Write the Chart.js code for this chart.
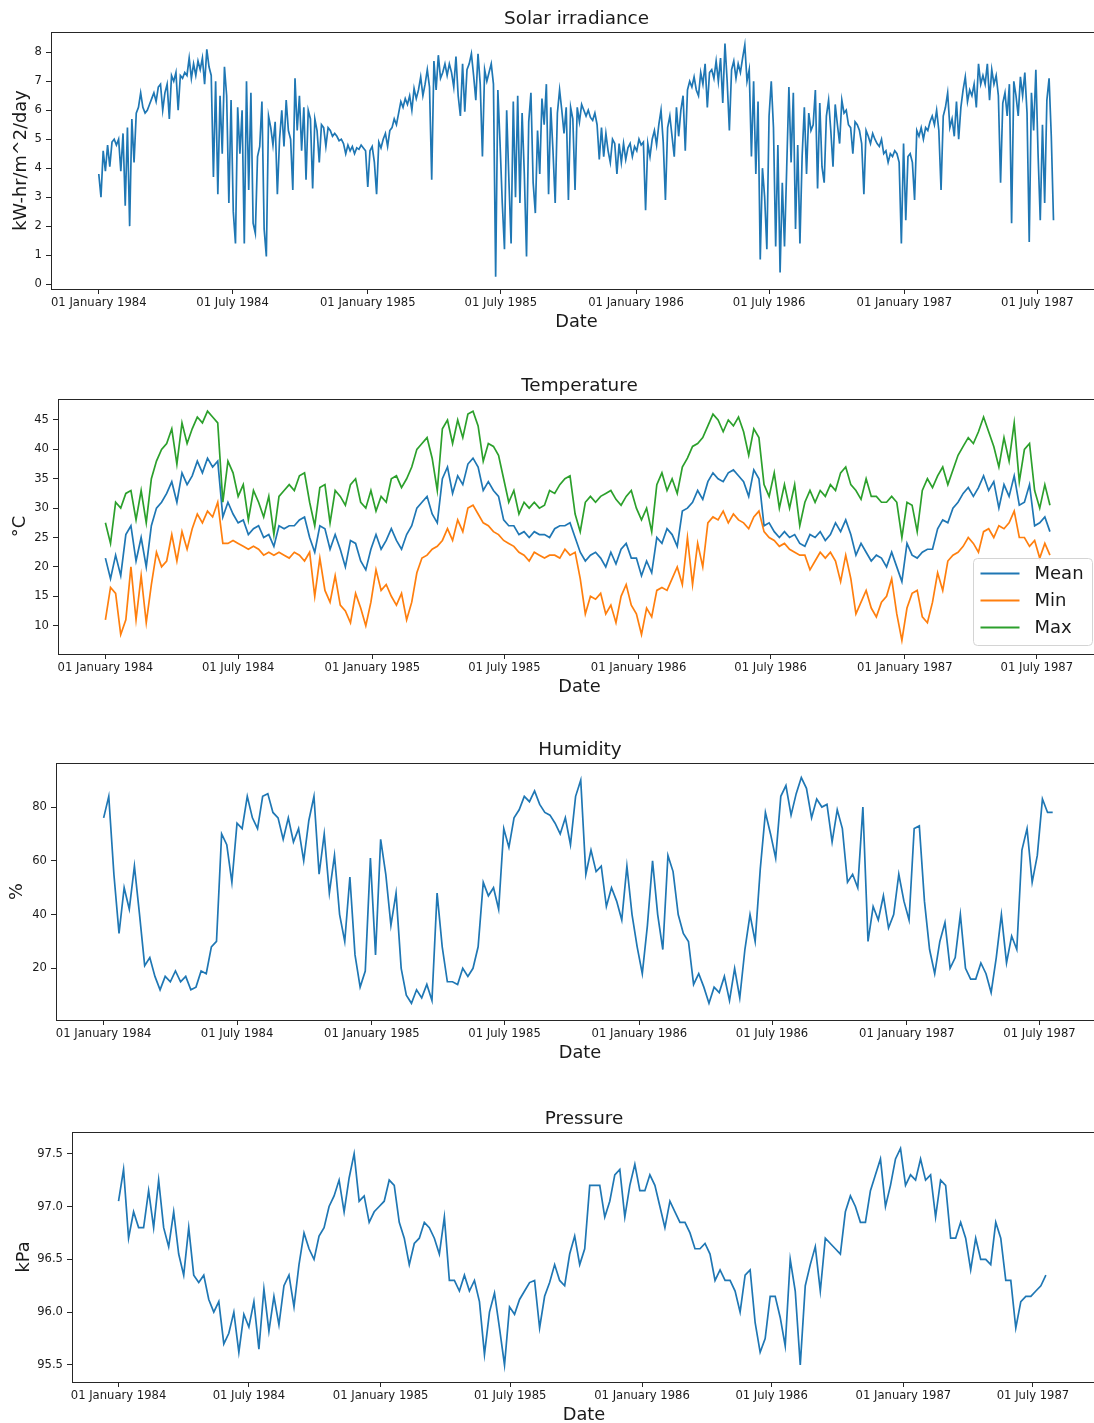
<!DOCTYPE html>
<html>
<head>
<meta charset="utf-8">
<title>Weather station: daily series 1984-1987</title>
<script src="https://cdn.jsdelivr.net/npm/chart.js@4.4.0/dist/chart.umd.min.js"></script>
<style>
  html, body { margin: 0; padding: 0; background: #ffffff; overflow: hidden; width: 1094px; height: 1423px; }
  body { position: relative; }
  canvas { position: absolute; left: 0; display: block; }
</style>
</head>
<body>
<canvas id="solarChart"></canvas>
<canvas id="tempChart"></canvas>
<canvas id="humidityChart"></canvas>
<canvas id="pressureChart"></canvas>
<script>
// ---- time axis (days since 01 January 1984) ----
const X_TICK_DAYS = [0, 182, 366, 547, 731, 912, 1096, 1277];
const X_TICK_LABELS = ['01 January 1984', '01 July 1984', '01 January 1985', '01 July 1985',
                       '01 January 1986', '01 July 1986', '01 January 1987', '01 July 1987'];
const SOLAR_STEP_DAYS = 3;   // one reading every 3 days
const WEEK_STEP_DAYS = 7;    // one reading every week

// ---- solar irradiance, kW-hr/m^2/day ----
const SOLAR = [
  3.8,3.0,4.6,3.9,4.8,4.05,4.9,5.0,4.8,5.0,
  3.9,5.2,2.7,5.4,2.0,5.7,4.2,5.9,6.1,6.6,
  6.1,5.9,6.0,6.2,6.4,6.6,6.3,6.8,6.9,6.0,
  6.6,6.9,5.7,7.2,7.0,7.3,6.0,7.2,7.1,7.3,
  7.2,7.8,7.1,7.6,7.2,7.7,7.4,7.8,6.9,8.1,
  7.5,7.2,3.7,7.0,3.1,6.5,4.5,7.5,6.5,2.8,
  6.35,2.5,1.4,6.1,4.5,6.0,1.4,7.0,3.25,6.6,
  2.1,1.75,4.4,4.75,6.3,1.9,0.95,5.8,5.4,4.8,
  5.6,3.1,5.0,6.0,4.75,6.35,5.3,5.0,3.25,7.1,
  5.3,6.5,4.6,6.1,3.6,6.0,5.7,3.3,5.7,5.3,
  4.2,5.5,5.4,4.75,5.4,5.3,5.1,5.2,5.1,4.95,
  5.0,4.85,4.5,4.8,4.6,4.75,4.5,4.7,4.65,4.8,
  4.7,4.6,3.35,4.6,4.75,4.2,3.1,4.9,4.7,5.0,
  5.2,4.75,5.3,5.4,5.7,5.5,5.9,6.3,6.1,6.4,
  6.2,6.5,6.0,6.75,6.4,6.7,7.15,6.5,6.9,7.4,
  6.8,3.6,7.7,6.7,7.9,7.1,7.3,7.6,7.2,7.6,
  7.3,6.8,7.85,6.5,5.8,7.6,5.95,7.4,7.6,7.95,
  7.2,6.35,7.95,6.9,4.4,7.4,7.0,7.3,7.6,6.9,
  0.25,6.7,4.85,2.8,1.2,6.0,3.6,1.4,6.3,3.0,
  6.5,2.8,5.9,3.8,0.95,5.6,6.6,3.5,2.45,5.3,
  3.8,6.4,5.5,6.9,3.1,6.1,4.6,2.8,5.9,6.7,
  6.0,5.2,6.1,2.9,6.1,5.7,3.25,6.1,5.6,6.2,
  6.0,5.8,6.0,5.75,5.65,5.9,5.5,4.3,5.4,4.4,
  5.2,4.6,4.2,5.0,4.85,3.8,4.85,4.2,4.85,4.3,
  4.7,4.85,4.4,4.75,4.6,5.0,4.8,4.9,2.55,4.85,
  4.4,5.0,5.3,4.8,5.5,6.0,4.9,2.9,5.4,5.8,
  5.1,4.4,6.1,5.1,6.0,6.5,4.6,6.7,7.0,6.8,
  7.15,6.7,6.5,7.3,6.9,7.6,6.1,7.3,7.4,7.1,
  7.7,7.0,7.8,6.25,8.3,7.0,5.3,7.4,7.7,7.1,
  7.6,7.3,7.8,8.25,7.0,7.4,4.4,7.0,3.8,6.3,
  0.85,4.0,3.0,1.2,5.8,7.0,5.4,1.3,4.8,0.4,
  3.5,1.3,4.0,6.8,4.2,6.6,1.9,4.8,1.4,4.4,
  6.1,3.8,5.9,5.3,5.5,6.7,3.3,6.25,4.05,3.5,
  5.8,6.35,5.3,4.05,6.2,5.5,4.85,6.35,5.9,6.0,
  5.5,5.4,4.5,5.6,5.5,5.3,4.85,3.1,5.3,5.1,
  4.85,5.2,5.0,4.85,4.75,5.0,4.5,4.6,4.2,4.5,
  4.4,4.6,4.5,4.2,1.4,4.85,2.2,4.4,4.5,4.2,
  2.9,5.3,5.1,5.4,5.0,5.4,5.3,5.6,5.8,5.5,
  6.0,5.3,3.25,5.8,6.1,6.6,5.4,5.7,5.1,6.3,
  5.0,6.1,6.7,7.15,6.3,6.7,6.5,6.9,6.1,7.6,
  6.9,7.2,6.9,7.6,6.35,7.4,6.9,7.2,6.5,3.5,
  6.25,6.6,5.8,6.9,2.1,7.0,6.5,5.8,7.15,6.5,
  7.3,5.9,1.45,6.6,5.3,7.4,4.5,2.2,5.5,2.8,
  6.35,7.1,5.1,2.2
];
const SOLAR_Y_TICKS = [0, 1, 2, 3, 4, 5, 6, 7, 8];

// ---- temperature, °C (weekly) ----
const TEMP_MEAN = [
  21.5,18,22,18.5,25.5,27,21,25,20,27,
  30,31,32.5,34.5,31,36,34,35.5,38,36,
  38.5,37,38,28.5,31,29,27.5,28,25.5,26.5,
  27,25,25.5,23.5,27,26.5,27,27,28,28.5,
  25,22.5,27,26.5,23,25.5,23,20,24.5,24,
  21,19.5,23,25.5,23,24.5,26.5,24.5,23,25.5,
  27,30,31,32,29,27.5,35,37,32.5,35.5,
  34,37.5,38.5,37,33,34.5,33,32,28,27,
  27,25.5,26,25,26,25.5,25.5,25,26.5,27,
  27,27.5,25,22.5,21,22,22.5,21.5,20,22.5,
  20.5,23,24,21.5,21.5,18.5,21,19,25,24,
  26.5,25.5,23.5,29.5,30,31,33,31.5,34.5,36,
  35,34.5,36,36.5,35.5,34.5,32,36.5,35,27,
  27.5,26,25,26,25,25.5,24,23.5,25.5,25,
  26,24.5,25.5,27.5,26,28,25.5,22,24,22.5,
  21,22,21.5,20,22.5,20,17.5,24,22,21.5,
  22.5,23,23,26.5,28,27.5,30,31,32.5,33.5,
  32,33.5,35.5,33,34.5,30,34,32,35.5,30.5,
  31,34,27,27.5,28.5,26
];
const TEMP_MIN = [
  11,16.5,15.5,8.5,11,20,11,18.5,10.5,17,
  22.5,20,21,25.5,21,26,23,26.5,29,27.5,
  29.5,28.5,31,24,24,24.5,24,23.5,23,23.5,
  23,22,22.5,22,22.5,22,21.5,22.5,22,21,
  22.5,15,21.5,16,14,18.5,13.5,12.5,10.5,15.5,
  13,10,14,19.5,16,17,15,13.5,15.5,11,
  14,19,21.5,22,23,23.5,24.5,26.5,24.5,28,
  26,30,30.5,29,27.5,27,26,25.5,24.5,24,
  23.5,22.5,22,21,22.5,22,21.5,22,22,21.5,
  23,22,22.5,18,12,15,14.5,15.5,12,13.5,
  10.5,15,17,13.5,12,8.5,13,11.5,16,16.5,
  16,18,20,17,25,17,24,20,27.5,28.5,
  28,29.5,27.5,29,28,27.5,26.5,28.5,29.5,26,
  25,24.5,23.5,24,23,22.5,22,22,19.5,21,
  22.5,21.5,22.5,21,17.5,22,18,12,14,16,
  13,11.5,14,15,18,12,7.5,13,15.5,16,
  11.5,10.5,14,19,16,21,22,22.5,23.5,25,
  24,22.5,26,26.5,25,27,26.5,27.5,29.5,25,
  25,23.5,24.5,21.5,24,22
];
const TEMP_MAX = [
  27.5,24,31,30,32.5,33,28,33,27.5,35,
  38,40,41,43.5,37.5,44.5,41,43.5,45.5,44.5,
  46.5,45.5,44.5,31,38,36,32,34,28,33,
  31,28.5,32,25.5,32,33,34,33,35.5,36,
  31,27,33.5,34,27.5,33,32,30.5,34,35,
  31,30,33,29.5,32,31,35,35.5,33.5,35,
  37,40,41,42,38.5,33,43.5,45,41,45,
  42,46,46.5,44,38,41,40.5,39,35,31,
  33,29,31,30,31,30,30.5,33,32.5,34,
  35,35.5,29,26,31,32,31,32,32.5,33,
  31.5,30.5,32,33,30,28,30,26,34,36,
  33,35,32.5,37,38.5,40.5,41,42,44,46,
  45,43,45,44,45.5,43,39,43.5,42,34,
  32,36,30,34,30,34,27,31,33,31,
  33,32,34,33,36,37,34,33,31.5,35,
  32,32,31,31,32,31,25,31,30.5,26,
  33,35,33.5,35.5,37,34,36.5,39,40.5,42,
  41,43,45.5,43,40.5,37,42,38,44.5,34.5,
  40,41,33,30,34,30.5
];
const TEMP_Y_TICKS = [10, 15, 20, 25, 30, 35, 40, 45];

// ---- relative humidity, % (weekly) ----
const HUMIDITY = [
  76,84,55,33,50,42,58,40,21,24,
  17,12,17,15,19,15,17,12,13,19,
  18,28,30,70,66,52,74,72,84,76,
  72,84,85,78,76,68,76,67,72,60,
  75,84,55,70,48,62,40,30,54,25,
  13,19,61,25,68,55,36,48,20,10,
  7,12,9,14,8,48,28,15,15,14,
  20,17,20,28,52,47,50,42,72,65,
  76,79,84,82,86,81,78,77,74,70,
  76,66,84,90,55,64,56,58,43,50,
  45,38,58,40,28,18,36,60,40,27,
  62,56,40,33,30,14,18,13,7,13,
  11,17,8,20,9,27,40,30,57,78,
  70,61,84,88,77,85,91,87,76,83,
  80,81,67,79,72,52,55,50,80,30,
  43,38,47,35,40,55,45,38,72,73,
  45,27,18,30,37,20,24,40,20,16,
  16,22,18,11,24,40,22,32,27,64,
  72,52,62,83,78,78
];
const HUMIDITY_Y_TICKS = [20, 40, 60, 80];

// ---- surface pressure, kPa (weekly) ----
const PRESSURE = [
  97.05,97.35,96.7,96.95,96.8,96.8,97.15,96.8,97.25,96.8,
  96.62,96.95,96.55,96.35,96.8,96.35,96.28,96.35,96.12,96.0,
  96.1,95.7,95.8,96.0,95.62,95.98,95.86,96.1,95.65,96.22,
  95.82,96.15,95.88,96.25,96.35,96.05,96.45,96.75,96.6,96.5,
  96.72,96.8,97.0,97.1,97.25,96.95,97.27,97.5,97.05,97.1,
  96.85,96.95,97.0,97.05,97.25,97.2,96.85,96.7,96.45,96.65,
  96.7,96.85,96.8,96.7,96.55,96.9,96.3,96.3,96.2,96.35,
  96.2,96.3,96.1,95.6,96.0,96.18,95.85,95.5,96.05,95.98,
  96.12,96.2,96.28,96.3,95.85,96.15,96.28,96.45,96.3,96.25,
  96.55,96.72,96.45,96.6,97.2,97.2,97.2,96.9,97.05,97.3,
  97.35,96.9,97.2,97.4,97.15,97.15,97.3,97.2,97.0,96.8,
  97.05,96.95,96.85,96.85,96.75,96.6,96.6,96.65,96.55,96.3,
  96.4,96.3,96.3,96.2,96.0,96.35,96.4,95.9,95.62,95.75,
  96.15,96.15,95.95,95.68,96.5,96.2,95.5,96.25,96.45,96.62,
  96.2,96.7,96.65,96.6,96.55,96.95,97.1,97.0,96.85,96.85,
  97.15,97.3,97.45,97.0,97.2,97.45,97.55,97.2,97.3,97.25,
  97.45,97.25,97.3,96.9,97.25,97.2,96.7,96.7,96.85,96.7,
  96.4,96.7,96.5,96.5,96.45,96.85,96.7,96.3,96.3,95.85,
  96.1,96.15,96.15,96.2,96.25,96.35
];
const PRESSURE_Y_TICKS = [95.5, 96.0, 96.5, 97.0, 97.5];

// ---- styling ----
const FONT = "'DejaVu Sans', 'Liberation Sans', sans-serif";
const TEXT = '#1a1a1a';
const SPINE = '#262626';
const BLUE = '#1f77b4', ORANGE = '#ff7f0e', GREEN = '#2ca02c';
const X_MIN_DAY = -65, X_MAX_DAY = 1365;
const TITLE_SIZE = 18.4, AXIS_TITLE_SIZE = 17.8, TICK_SIZE = 11.6;
const ABOVE_FRAME = 32, BELOW_FRAME = 44;

function toPoints(values, step) {
  return values.map((v, i) => ({ x: i * step, y: v }));
}

function line(label, values, step, color, order) {
  return {
    label, data: toPoints(values, step), borderColor: color, backgroundColor: color,
    borderWidth: 1.7, pointRadius: 0, tension: 0, fill: false, order
  };
}

// frame around the plotting area (drawn above the lines)
const framePlugin = {
  id: 'frame',
  afterDatasetsDraw(chart) {
    const { ctx, chartArea: a } = chart;
    ctx.save();
    ctx.strokeStyle = SPINE;
    ctx.lineWidth = 1;
    ctx.strokeRect(Math.round(a.left) + 0.5, Math.round(a.top) + 0.5,
                   Math.round(a.right - a.left), Math.round(a.bottom - a.top));
    ctx.restore();
  }
};

// boxed legend in the lower-right corner of the temperature panel
const cornerLegendPlugin = {
  id: 'cornerLegend',
  afterDatasetsDraw(chart) {
    const { ctx, chartArea: a } = chart;
    const w = 119, h = 87, r = 4;
    const x = Math.round(a.right - 9 - w) + 0.5, y = Math.round(a.bottom - 9 - h) + 0.5;
    ctx.save();
    ctx.beginPath();
    ctx.moveTo(x + r, y);
    ctx.lineTo(x + w - r, y); ctx.arcTo(x + w, y, x + w, y + r, r);
    ctx.lineTo(x + w, y + h - r); ctx.arcTo(x + w, y + h, x + w - r, y + h, r);
    ctx.lineTo(x + r, y + h); ctx.arcTo(x, y + h, x, y + h - r, r);
    ctx.lineTo(x, y + r); ctx.arcTo(x, y, x + r, y, r);
    ctx.closePath();
    ctx.fillStyle = 'rgba(255,255,255,0.8)';
    ctx.fill();
    ctx.strokeStyle = '#d4d4d4';
    ctx.lineWidth = 1;
    ctx.stroke();
    ctx.font = '18px ' + FONT;
    ctx.textBaseline = 'middle';
    ctx.textAlign = 'left';
    chart.data.datasets.forEach((ds, i) => {
      const cy = y + 15 + i * 27;
      ctx.beginPath();
      ctx.moveTo(x + 7, cy);
      ctx.lineTo(x + 46, cy);
      ctx.strokeStyle = ds.borderColor;
      ctx.lineWidth = 2;
      ctx.stroke();
      ctx.fillStyle = TEXT;
      ctx.fillText(ds.label, x + 61, cy + 1);
    });
    ctx.restore();
  }
};

function makePanel(canvasId, p) {
  const canvas = document.getElementById(canvasId);
  const width = p.right;
  const height = (p.bottom - p.top) + ABOVE_FRAME + BELOW_FRAME;
  canvas.width = width; canvas.height = height;
  canvas.style.width = width + 'px'; canvas.style.height = height + 'px';
  canvas.style.top = (p.top - ABOVE_FRAME) + 'px';

  const titleLH = TITLE_SIZE * 1.2;
  const padTop = 19 - titleLH / 2;
  const titleGap = ABOVE_FRAME - padTop - titleLH;
  const axisLH = AXIS_TITLE_SIZE * 1.2;

  return new Chart(canvas, {
    type: 'line',
    data: { datasets: p.datasets },
    plugins: [framePlugin].concat(p.extraPlugins || []),
    options: {
      responsive: false,
      animation: false,
      devicePixelRatio: 1,
      layout: { padding: { top: padTop, left: 0, right: 0, bottom: 0 } },
      plugins: {
        legend: { display: false },
        tooltip: { enabled: false },
        title: {
          display: true, text: p.title, fullSize: false, color: TEXT,
          font: { family: FONT, size: TITLE_SIZE, weight: 'normal' },
          padding: { top: 0, bottom: titleGap }
        }
      },
      scales: {
        x: {
          type: 'linear', min: X_MIN_DAY, max: X_MAX_DAY,
          afterBuildTicks: s => { s.ticks = X_TICK_DAYS.map(v => ({ value: v })); },
          afterFit: s => { s.height = BELOW_FRAME; },
          ticks: {
            callback: (v, i) => X_TICK_LABELS[i],
            autoSkip: false, maxRotation: 0, minRotation: 0, padding: 2,
            color: TEXT, font: { family: FONT, size: TICK_SIZE }
          },
          grid: { drawOnChartArea: false, drawTicks: true, tickLength: 5, tickWidth: 1,
                  tickColor: SPINE, color: SPINE },
          border: { display: false },
          title: { display: true, text: 'Date', color: TEXT,
                   font: { family: FONT, size: AXIS_TITLE_SIZE }, padding: { top: 0, bottom: 0 } }
        },
        y: {
          type: 'linear', min: p.yMin, max: p.yMax,
          afterBuildTicks: s => { s.ticks = p.yTicks.map(v => ({ value: v })); },
          afterFit: s => { s.width = p.left; },
          ticks: {
            callback: v => Number(v).toFixed(p.digits),
            padding: 4, color: TEXT, font: { family: FONT, size: TICK_SIZE }
          },
          grid: { drawOnChartArea: false, drawTicks: true, tickLength: 5, tickWidth: 1,
                  tickColor: SPINE, color: SPINE },
          border: { display: false },
          title: { display: true, text: p.yTitle, color: TEXT,
                   font: { family: FONT, size: AXIS_TITLE_SIZE },
                   padding: { top: p.yTitleCenter - axisLH / 2, bottom: 0 } }
        }
      }
    }
  });
}

makePanel('solarChart', {
  title: 'Solar irradiance', yTitle: 'kW-hr/m^2/day', yTitleCenter: 21,
  left: 51, right: 1102, top: 32, bottom: 289,
  yMin: -0.17, yMax: 8.70, yTicks: SOLAR_Y_TICKS, digits: 0,
  datasets: [line('Solar irradiance', SOLAR, SOLAR_STEP_DAYS, BLUE, 1)]
});

makePanel('tempChart', {
  title: 'Temperature', yTitle: '°C', yTitleCenter: 20.5,
  left: 58, right: 1101, top: 399, bottom: 654,
  yMin: 5.18, yMax: 48.57, yTicks: TEMP_Y_TICKS, digits: 0,
  datasets: [
    line('Mean', TEMP_MEAN, WEEK_STEP_DAYS, BLUE, 3),
    line('Min', TEMP_MIN, WEEK_STEP_DAYS, ORANGE, 2),
    line('Max', TEMP_MAX, WEEK_STEP_DAYS, GREEN, 1)
  ],
  extraPlugins: [cornerLegendPlugin]
});

makePanel('humidityChart', {
  title: 'Humidity', yTitle: '%', yTitleCenter: 17.5,
  left: 56, right: 1104, top: 763, bottom: 1020,
  yMin: 0.77, yMax: 96.4, yTicks: HUMIDITY_Y_TICKS, digits: 0,
  datasets: [line('Humidity', HUMIDITY, WEEK_STEP_DAYS, BLUE, 1)]
});

makePanel('pressureChart', {
  title: 'Pressure', yTitle: 'kPa', yTitleCenter: 24.5,
  left: 72, right: 1096, top: 1132, bottom: 1382,
  yMin: 95.339, yMax: 97.705, yTicks: PRESSURE_Y_TICKS, digits: 1,
  datasets: [line('Pressure', PRESSURE, WEEK_STEP_DAYS, BLUE, 1)]
});
</script>
</body>
</html>
